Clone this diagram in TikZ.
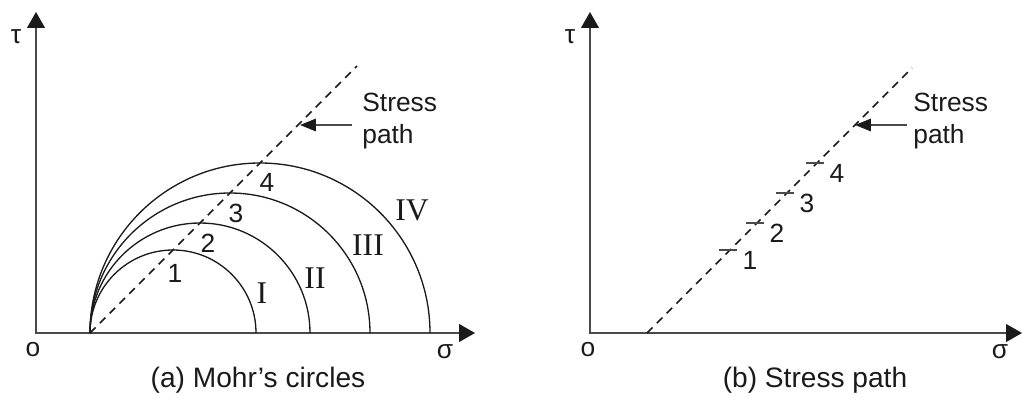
\documentclass[tikz,border=0pt]{standalone}
\usepackage{fontspec}
\setmainfont{Liberation Sans}
\newfontfamily\romfont{Liberation Serif}
\usetikzlibrary{arrows.meta,positioning}
\definecolor{mcInk}{HTML}{1A1A1A}
\definecolor{mcAxis}{HTML}{4A4A4A}
\tikzset{
  mc diagram/.style={font=\fontsize{15}{18.5}\selectfont, text=mcInk},
  mc axis/.style={{Triangle[length=9pt,width=10pt,color=mcInk]}-{Triangle[length=9pt,width=10pt,color=mcInk]},
    draw=mcAxis, line width=1.1pt},
  mc circle/.style={draw=mcInk, line width=0.75pt},
  mc path/.style={draw=mcInk, line width=0.85pt, dash pattern=on 4.5pt off 3.4pt},
  mc pointer/.style={-{Triangle[length=9pt,width=7pt,color=mcInk]}, draw=mcAxis, line width=1.1pt},
  mc tick/.style={draw=mcAxis, line width=1.1pt},
  mc num/.style={inner sep=0pt},
  mc roman/.style={font=\romfont\fontsize{18}{20}\selectfont, inner sep=0pt},
  mc label/.style={inner sep=0pt, align=left, anchor=west},
  mc caption/.style={font=\fontsize{16}{19}\selectfont}
}
\begin{document}
\begin{tikzpicture}[mc diagram,x=0.02cm,y=0.02cm]
\useasboundingbox (0,0) rectangle (1022,397);
% (a) Mohr's circles
\begin{scope}[shift={(36,64)}]
  \coordinate (a-o) at (0,0);
  \coordinate (a-tau) at (0,321);
  \coordinate (a-sig) at (439,0);
  \draw[mc axis] (a-tau) -- (a-o) -- (a-sig);
  \foreach \r/\i/\nx/\ny/\rom/\rx/\ry in {83/1/139/60/I/226/40,110/2/172/90/II/279/55,
      140/3/200/120/III/332/88,170/4/231/151/IV/376/123}{
    \draw[mc circle] (54,0) arc[start angle=180,end angle=0,radius=\r];
    \node[mc num] (a-num-\i) at (\nx,\ny) {\i};
    \node[mc roman] (a-rom-\i) at (\rx,\ry) {\rom};
  }
  \coordinate (a-start) at (54,0);
  \coordinate (a-end) at (321,267);
  \draw[mc path] (a-start) -- (a-end);
  \node[mc label] (a-lbl) at (326,212) {Stress\\path};
  \coordinate (a-tail) at (316,208);
  \coordinate (a-tip) at (264,208);
  \draw[mc pointer] (a-tail) -- (a-tip);
  \node (a-tau-lbl) at (-20,296) {τ};
  \node (a-o-lbl) at (-3,-17) {o};
  \node (a-sig-lbl) at (409,-19) {σ};
  \node[mc caption] (a-cap) at (222,-47) {(a) Mohr's circles};
\end{scope}
% (b) Stress path
\begin{scope}[shift={(590,64)}]
  \coordinate (b-o) at (0,0);
  \coordinate (b-tau) at (0,321);
  \coordinate (b-sig) at (432,0);
  \draw[mc axis] (b-tau) -- (b-o) -- (b-sig);
  \coordinate (b-start) at (57,0);
  \coordinate (b-end) at (322,265);
  \draw[mc path] (b-start) -- (b-end);
  \foreach \r/\i in {83/1,110/2,140/3,170/4}{
    \draw[mc tick] (\r+46,\r) -- (\r+64,\r);
    \node[mc num] (b-num-\i) at (\r+77,\r-10) {\i};
  }
  \node[mc label] (b-lbl) at (323,212) {Stress\\path};
  \coordinate (b-tail) at (317,208);
  \coordinate (b-tip) at (265,208);
  \draw[mc pointer] (b-tail) -- (b-tip);
  \node (b-tau-lbl) at (-20,296) {τ};
  \node (b-o-lbl) at (-2,-17) {o};
  \node (b-sig-lbl) at (410,-19) {σ};
  \node[mc caption] (b-cap) at (225,-47) {(b) Stress path};
\end{scope}
\end{tikzpicture}
\end{document}
